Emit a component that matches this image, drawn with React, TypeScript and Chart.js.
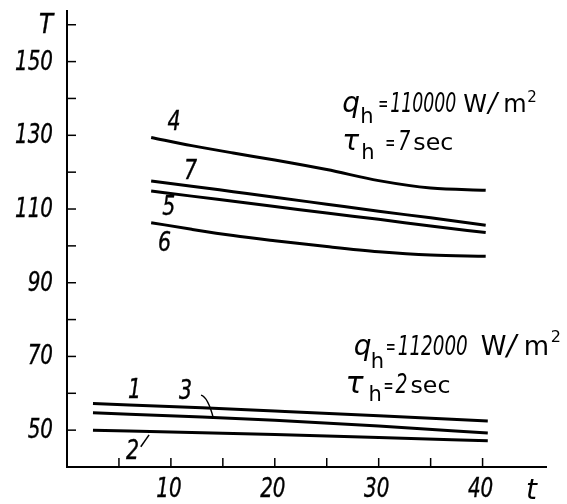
import React, { useEffect, useRef } from 'react';
import { Chart, registerables } from 'chart.js';

Chart.register(...registerables);

// ---- data (t in sec, T in °C) ----
const upperT = [8.1, 12, 16, 20, 25, 30, 35, 40.3];
const curve4 = [129.4, 127.2, 125.2, 123.3, 120.7, 117.7, 115.7, 115.1];
const curve7 = [117.6, 116.2, 114.7, 113.2, 111.3, 109.4, 107.6, 105.6];
const curve5 = [114.9, 113.5, 112.1, 110.7, 108.9, 107.2, 105.4, 103.6];
const curve6 = [106.3, 104.5, 102.8, 101.4, 99.8, 98.4, 97.5, 97.2];

const lowerT = [2.5, 13, 20, 30, 40.5];
const curve1 = [57.2, 56.1, 55.2, 53.9, 52.5];
const curve3 = [54.7, 53.6, 52.7, 51.1, 49.2];
const curve2 = [50.0, 49.3, 48.8, 48.0, 47.1];

const yTickValues = [40, 50, 60, 70, 80, 90, 100, 110, 120, 130, 140, 150, 160];
const yTickLabels: Record<number, string> = { 50: '50', 70: '70', 90: '90', 110: '110', 130: '130', 150: '150', 160: 'T' };
const xTickValues = [5, 10, 15, 20, 25, 30, 35, 40];
const xTickLabels: Record<number, string> = { 10: '10', 20: '20', 30: '30', 40: '40' };

const COND = '"DejaVu Sans Condensed", "DejaVu Sans", sans-serif';
const SANS = '"DejaVu Sans", sans-serif';

function series(xs: number[], ys: number[]) {
  return xs.map((x, i) => ({ x, y: ys[i] }));
}

function txt(ctx: any, s: string, x: number, y: number, font: string, opts: { align?: string; base?: string; sx?: number; w?: number; stroke?: number } = {}) {
  ctx.save();
  ctx.font = font;
  ctx.textAlign = opts.align || 'left';
  ctx.textBaseline = opts.base || 'alphabetic';
  let sx = opts.sx ?? 1;
  if (opts.w) sx = opts.w / ctx.measureText(s).width;
  ctx.translate(x, y);
  ctx.scale(sx, 1);
  ctx.fillText(s, 0, 0);
  if (opts.stroke) {
    ctx.lineWidth = opts.stroke;
    ctx.strokeText(s, 0, 0);
  }
  ctx.restore();
}

const overlay = {
  id: 'overlay',
  afterDraw(chart: any) {
    const { ctx, chartArea } = chart;
    const xs = chart.scales.x;
    const ys = chart.scales.y;
    const L = chartArea.left;
    const B = chartArea.bottom;
    ctx.save();
    ctx.strokeStyle = '#000';
    ctx.fillStyle = '#000';
    ctx.lineWidth = 2;
    // axes
    ctx.beginPath();
    ctx.moveTo(L, chartArea.top);
    ctx.lineTo(L, B);
    ctx.lineTo(chartArea.right, B);
    ctx.stroke();
    // ticks (inward) and labels
    const tickF = `italic 27px ${COND}`;
    yTickValues.forEach((v) => {
      if (v === 40) return;
      const py = ys.getPixelForValue(v);
      ctx.lineWidth = 1.5;
      ctx.beginPath();
      ctx.moveTo(L, py);
      ctx.lineTo(L + 9, py);
      ctx.stroke();
      const lab = yTickLabels[v];
      if (lab) txt(ctx, lab, L - 14, py + 1, tickF, { align: 'right', base: 'middle', sx: lab === 'T' ? 0.95 : 0.82, stroke: 0.35 });
    });
    xTickValues.forEach((v) => {
      const px = xs.getPixelForValue(v);
      ctx.lineWidth = 1.5;
      ctx.beginPath();
      ctx.moveTo(px, B);
      ctx.lineTo(px, B - 9);
      ctx.stroke();
      const lab = xTickLabels[v];
      if (lab) txt(ctx, lab, px - 2, B + 23, `italic 26px ${COND}`, { align: 'center', base: 'middle', sx: 0.85, stroke: 0.35 });
    });

    const P = (t: number, T: number) => [xs.getPixelForValue(t), ys.getPixelForValue(T)];

    // axis title t
    txt(ctx, 't', chartArea.right - 21, B + 32, `italic 28px ${SANS}`);

    // curve labels
    const labF = `italic 26px ${COND}`;
    const labels: [string, number, number][] = [
      ['4', 10.3, 133.2],
      ['7', 11.9, 120.0],
      ['5', 9.8, 110.2],
      ['6', 9.4, 100.4],
      ['1', 6.5, 60.6],
      ['3', 11.4, 60.2],
      ['2', 6.3, 44.1],
    ];
    labels.forEach(([s, t, T]) => {
      const [px, py] = P(t, T);
      txt(ctx, s, px, py, labF, { align: 'center', base: 'middle', sx: 0.88, stroke: 0.35 });
    });
    // leaders
    ctx.lineWidth = 1.5;
    let [a, b] = P(12.9, 59.5);
    let [c, d] = P(14.1, 53.1);
    ctx.beginPath();
    ctx.moveTo(a, b);
    ctx.quadraticCurveTo(a + 7, b + 2, c, d);
    ctx.stroke();
    [a, b] = P(7.1, 45.5);
    [c, d] = P(7.9, 48.7);
    ctx.beginPath();
    ctx.moveTo(a, b);
    ctx.lineTo(c, d);
    ctx.stroke();

    // annotations
    type Piece = [string, number, number, string, number?];
    const draw = (t: number, T: number, pieces: Piece[]) => {
      const [x0, y0] = P(t, T);
      pieces.forEach(([s, dx, dy, f, w]) => txt(ctx, s, x0 + dx, y0 + dy, f, w ? { w } : {}));
    };
    const qF = `italic 28px ${SANS}`;
    const subF = `21px ${SANS}`;
    const eqF = `22px ${SANS}`;
    const numF = `italic 26px ${COND}`;
    // top: q_h = 110000 W/m2
    draw(26.5, 136.2, [
      ['q', 0, 0, qF],
      ['h', 18, 11, subF],
      ['=', 36, -1, eqF, 10],
      ['110000', 48, 0, numF, 66],
      ['W', 121, 0, `24px ${SANS}`],
      ['/', 146, 0, `italic 26px ${SANS}`],
      ['m', 161, 0, `24px ${SANS}`],
      ['2', 185, -10, `15px ${SANS}`],
    ]);
    draw(26.5, 125.9, [
      ['τ', 0, 0, qF],
      ['h', 19, 9, subF],
      ['=', 43, 0, eqF, 10],
      ['7', 56, 0, numF, 12],
      ['sec', 71, 0, `23px ${SANS}`, 40],
    ]);
    // bottom: q_h = 112000 W/m2
    draw(27.6, 70.4, [
      ['q', 0, 0, qF],
      ['h', 17, 13, subF],
      ['=', 32, -1, eqF, 10],
      ['112000', 44, 0, numF, 70],
      ['W', 127, 0, `26px ${SANS}`],
      ['/', 153, 0, `italic 28px ${SANS}`],
      ['m', 170, 0, `26px ${SANS}`],
      ['2', 197, -13, `16px ${SANS}`],
    ]);
    draw(26.8, 60.2, [
      ['τ', 0, 0, `italic 30px ${SANS}`],
      ['h', 23, 8, subF],
      ['=', 38, 0, eqF, 10],
      ['2', 50, 0, numF, 12],
      ['sec', 65, 0, `23px ${SANS}`, 40],
    ]);
    ctx.restore();
  },
};

export default function App() {
  const ref = useRef<HTMLCanvasElement>(null);
  useEffect(() => {
    if (!ref.current) return;
    const mk = (xs: number[], ys: number[]) => ({
      data: series(xs, ys),
      borderColor: '#000',
      borderWidth: 3,
      pointRadius: 0,
      fill: false,
      cubicInterpolationMode: 'monotone' as const,
    });
    const chart = new Chart(ref.current, {
      type: 'line',
      data: {
        datasets: [
          mk(upperT, curve4),
          mk(upperT, curve7),
          mk(upperT, curve5),
          mk(upperT, curve6),
          mk(lowerT, curve1),
          mk(lowerT, curve3),
          mk(lowerT, curve2),
        ],
      },
      options: {
        responsive: false,
        animation: false,
        layout: { padding: { top: 10, right: 20, left: 0, bottom: 0 } },
        plugins: { legend: { display: false }, tooltip: { enabled: false } },
        scales: {
          x: {
            type: 'linear',
            min: 0,
            max: 46.2,
            grid: { display: false, drawTicks: false },
            border: { display: false },
            ticks: { display: false },
            afterFit: (s: any) => {
              s.height = 37;
            },
          },
          y: {
            type: 'linear',
            min: 40,
            max: 164,
            grid: { display: false, drawTicks: false },
            border: { display: false },
            ticks: { display: false },
            afterFit: (s: any) => {
              s.width = 67;
            },
          },
        },
      },
      plugins: [overlay],
    });
    return () => chart.destroy();
  }, []);
  return (
    <div style={{ position: 'fixed', left: 0, top: 0, width: 567, height: 504, background: '#fff' }}>
      <canvas ref={ref} width={567} height={504} />
    </div>
  );
}
